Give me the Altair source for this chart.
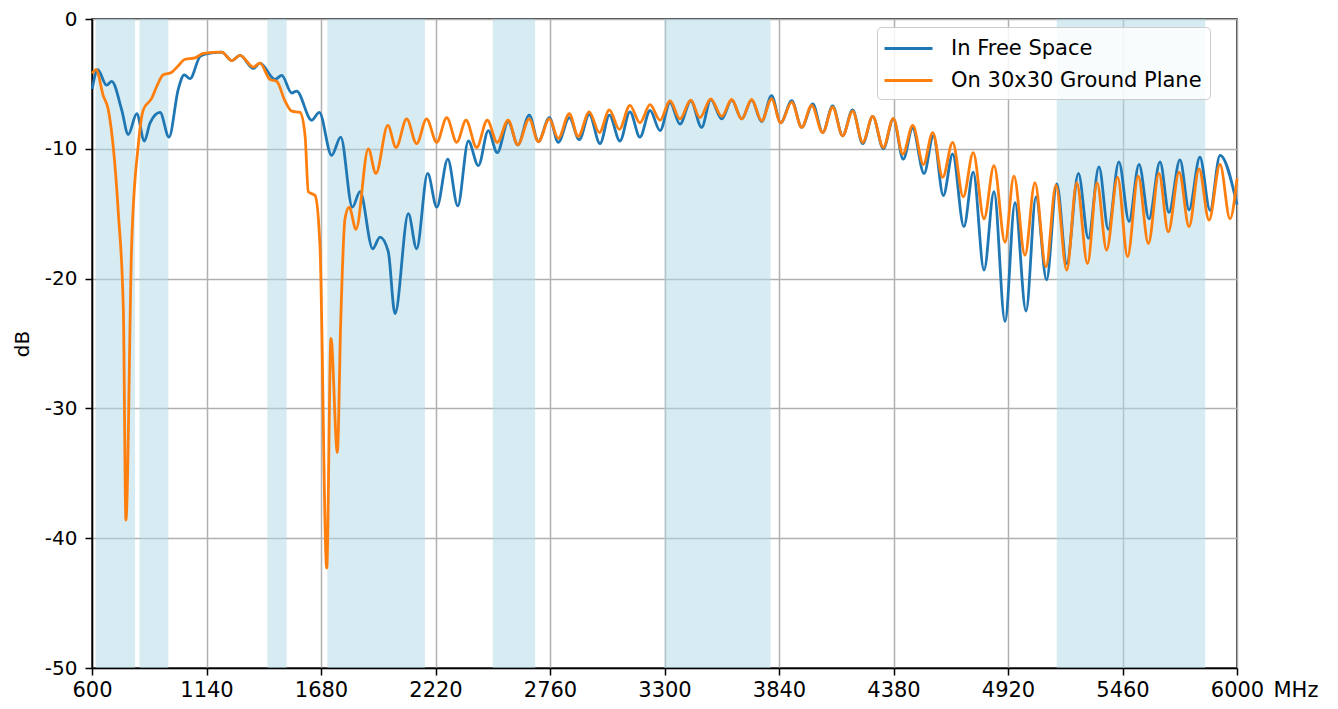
import altair as alt
import pandas as pd

# ---- data ----
free_mhz = [601, 627, 669, 693, 740, 771, 811, 847, 874, 921, 963, 1007, 1035, 1062, 1109, 1133,
            1212, 1259, 1298, 1361, 1392, 1463, 1495, 1542, 1565, 1636, 1672, 1730, 1773, 1828,
            1864, 1924, 1958, 1997, 2029, 2092, 2131, 2183, 2226, 2278, 2325, 2375, 2422, 2469,
            2511, 2563, 2608, 2662, 2705, 2757, 2799, 2851, 2898, 2945, 2996, 3040, 3090, 3137,
            3184, 3232, 3279, 3326, 3373, 3424, 3475, 3518, 3570, 3617, 3664, 3711, 3758, 3805,
            3848, 3900, 3947, 3999, 4046, 4093, 4140, 4187, 4235, 4282, 4332, 4379, 4426, 4470,
            4524, 4568, 4615, 4659, 4712, 4756, 4807, 4854, 4906, 4953, 5005, 5052, 5102, 5150,
            5197, 5252, 5299, 5349, 5393, 5443, 5491, 5538, 5585, 5637, 5679, 5731, 5774, 5825,
            5873, 5920, 6000]
free_db = [-5.4, -3.9, -5.1, -4.8, -7.0, -8.9, -7.3, -9.4, -8.0, -7.2, -9.1, -5.4, -4.3, -4.6, -2.9, -2.7,
           -2.55, -3.2, -2.8, -3.8, -3.4, -4.65, -4.35, -5.7, -5.55, -7.8, -7.2, -10.5, -9.1, -14.5,
           -13.3, -17.7, -16.8, -17.9, -22.7, -15.0, -17.7, -11.9, -14.5, -10.8, -14.4, -9.4, -11.3, -8.6,
           -10.3, -7.9, -9.7, -7.4, -9.45, -7.6, -9.5, -7.6, -9.3, -7.35, -9.6, -7.4, -9.4, -7.15,
           -9.1, -7.05, -8.6, -6.45, -8.1, -6.3, -8.35, -6.2, -7.7, -6.25, -7.7, -6.25, -7.9, -5.9,
           -8.0, -6.3, -8.35, -6.55, -8.75, -6.7, -9.0, -7.0, -9.6, -7.5, -10.0, -7.7, -10.8, -8.4,
           -11.9, -9.0, -13.6, -10.4, -16.0, -11.8, -19.35, -13.3, -23.3, -14.15, -22.5, -13.7, -20.1, -12.7,
           -18.85, -11.9, -16.9, -11.4, -16.2, -11.0, -15.6, -11.2, -15.4, -11.0, -14.9, -10.85, -14.7, -10.65,
           -14.75, -10.5, -14.3]

ground_mhz = [601, 619, 653, 677, 724, 748, 760, 787, 818, 842, 882, 905, 936, 976, 1007, 1039, 1086, 1125,
              1212, 1259, 1298, 1361, 1392, 1439, 1471, 1510, 1542, 1581, 1605, 1620, 1652, 1675, 1707,
              1727, 1757, 1773, 1793, 1813, 1845, 1903, 1939, 1995, 2034, 2084, 2131, 2178, 2226, 2273,
              2320, 2364, 2414, 2464, 2511, 2563, 2608, 2662, 2705, 2757, 2799, 2851, 2893, 2945, 2993,
              3040, 3087, 3137, 3184, 3232, 3279, 3326, 3373, 3424, 3467, 3518, 3570, 3617, 3664, 3711,
              3758, 3805, 3848, 3900, 3947, 3994, 4046, 4093, 4140, 4187, 4235, 4282, 4332, 4379, 4424,
              4471, 4521, 4565, 4612, 4659, 4709, 4756, 4807, 4854, 4906, 4948, 5000, 5047, 5099, 5146,
              5197, 5244, 5295, 5340, 5385, 5437, 5484, 5534, 5582, 5632, 5676, 5727, 5774, 5821, 5868,
              5920, 5967, 6000]
ground_db = [-4.2, -3.9, -5.9, -7.0, -14.9, -22.5, -38.6, -17.4, -9.75, -7.0, -6.1, -5.2, -4.3, -4.1, -3.6, -3.1, -3.0, -2.65,
             -2.55, -3.2, -2.8, -3.7, -3.4, -4.65, -4.8, -6.3, -7.1, -7.2, -9.0, -13.3, -13.6, -17.4, -42.3,
             -24.6, -33.4, -23.3, -15.4, -14.5, -16.2, -10.0, -11.9, -8.2, -9.9, -7.7, -9.6, -7.7, -9.5, -7.6,
             -9.5, -7.8, -9.9, -7.8, -9.5, -7.8, -9.7, -7.7, -9.45, -7.7, -9.2, -7.3, -9.05, -7.15, -8.75,
             -7.0, -8.5, -6.65, -8.0, -6.6, -7.8, -6.3, -7.7, -6.25, -7.6, -6.15, -7.5, -6.2, -7.7, -6.2,
             -7.85, -6.15, -8.0, -6.4, -8.35, -6.65, -8.75, -6.8, -9.0, -7.1, -9.5, -7.5, -9.9, -7.65, -10.4,
             -8.2, -11.2, -8.75, -12.2, -9.5, -13.7, -10.3, -15.4, -11.3, -17.2, -12.1, -18.2, -12.6, -19.1, -12.8,
             -19.35, -12.6, -18.85, -12.6, -17.8, -12.2, -18.3, -12.1, -17.3, -11.9, -16.4, -11.8, -16.0, -11.55, -15.5,
             -11.2, -15.4, -12.3]

series_names = ["In Free Space", "On 30x30 Ground Plane"]
series_colors = ["#1f77b4", "#ff7f0e"]

band_start = [617, 824, 1427, 1710, 2490, 3300, 5150]
band_end = [803, 960, 1518, 2170, 2690, 3800, 5850]

x_ticks = [600, 1140, 1680, 2220, 2760, 3300, 3840, 4380, 4920, 5460, 6000]
y_ticks = [-50, -40, -30, -20, -10, 0]

# ---- tables ----
lines = pd.concat([
    pd.DataFrame({"f": free_mhz, "db": free_db, "s": series_names[0], "o": 0}),
    pd.DataFrame({"f": ground_mhz, "db": ground_db, "s": series_names[1], "o": 1}),
], ignore_index=True)
bands = pd.DataFrame({"a": band_start, "b": band_end})

FONT = "DejaVu Sans"
W, H = 1145, 649

xscale = alt.Scale(domain=[600, 6000], nice=False, zero=False)
yscale = alt.Scale(domain=[-50, 0], nice=False, zero=False)

band_layer = alt.Chart(bands).mark_rect(color="#add8e6", opacity=0.5).encode(
    x=alt.X("a:Q", scale=xscale),
    x2="b:Q",
    y=alt.datum(0, scale=yscale),
    y2=alt.datum(-50),
)

line_layer = alt.Chart(lines).mark_line(interpolate="monotone", strokeWidth=2.8).encode(
    x=alt.X("f:Q", scale=xscale,
            axis=alt.Axis(values=x_ticks, format="d", title="MHz", titleAngle=0, labelFlush=False,
                          titleX=1181, titleY=22, titleAlign="left", titleBaseline="middle",
                          titleFontWeight="normal", titleFontSize=21, titleFont=FONT)),
    y=alt.Y("db:Q", scale=yscale,
            axis=alt.Axis(values=y_ticks, title="dB", titleFontSize=20, titleFont=FONT,
                          titleFontWeight="normal", titlePadding=12, labelFlush=False,
                          labelFontSize=20,
                          labelExpr="datum.value == 0 ? '0' : '-' + abs(datum.value)")),
    color=alt.Color("s:N", scale=alt.Scale(domain=series_names, range=series_colors),
                    legend=alt.Legend(orient="none", legendX=785, legendY=8, title=None,
                                      symbolType="M-2,0H2", symbolSize=576, symbolStrokeWidth=3,
                                      symbolOffset=10,
                                      labelFontSize=21, labelFont=FONT, labelLimit=400,
                                      labelOffset=29, padding=8, rowPadding=8,
                                      fillColor="rgba(255,255,255,0.85)", strokeColor="#cccccc",
                                      cornerRadius=4)),
    order="o:Q",
    detail="s:N",
)

chart = alt.layer(band_layer, line_layer).properties(
    width=W, height=H,
    autosize=alt.AutoSizeParams(type="none"),
    padding={"left": 84, "top": 11, "right": 90, "bottom": 33},
).configure_view(
    stroke="black", strokeWidth=1.5
).configure_axis(
    grid=True, gridColor="#b0b0b0", gridWidth=1.5,
    domainColor="black", domainWidth=1.5,
    tickColor="black", tickSize=7, tickWidth=1.5,
    labelFont=FONT, labelFontSize=21, labelColor="black",
    labelPadding=8, titleColor="black",
).configure_axisX(labelPadding=4)

chart.save("out.html", embed_options={"renderer": "svg", "actions": False})
